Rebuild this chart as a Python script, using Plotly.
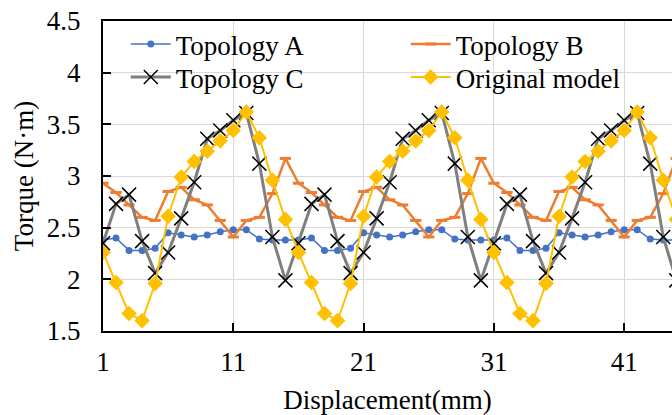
import plotly.graph_objects as go

displacement = list(range(1, 47))

topology_a = [2.38, 2.40, 2.28, 2.28, 2.30, 2.45, 2.43, 2.41, 2.43, 2.46, 2.48, 2.48, 2.39, 2.38, 2.38,
              2.38, 2.40, 2.28, 2.28, 2.30, 2.45, 2.43, 2.41, 2.43, 2.46, 2.48, 2.48, 2.39, 2.38, 2.38,
              2.38, 2.40, 2.28, 2.28, 2.30, 2.45, 2.43, 2.41, 2.43, 2.46, 2.48, 2.48, 2.39, 2.38, 2.38,
              2.38]
topology_b = [2.93, 2.84, 2.72, 2.60, 2.57, 2.85, 2.89, 2.77, 2.72, 2.57, 2.41, 2.57, 2.60, 2.83, 3.17,
              2.93, 2.84, 2.72, 2.60, 2.57, 2.85, 2.89, 2.77, 2.72, 2.57, 2.41, 2.57, 2.60, 2.83, 3.17,
              2.93, 2.84, 2.72, 2.60, 2.57, 2.85, 2.89, 2.77, 2.72, 2.57, 2.41, 2.57, 2.60, 2.83, 3.17,
              2.93]
topology_c = [2.35, 2.73, 2.82, 2.37, 2.06, 2.26, 2.59, 2.94, 3.36, 3.44, 3.54, 3.61, 3.12, 2.41, 1.99,
              2.35, 2.73, 2.82, 2.37, 2.06, 2.26, 2.59, 2.94, 3.36, 3.44, 3.54, 3.61, 3.12, 2.41, 1.99,
              2.35, 2.73, 2.82, 2.37, 2.06, 2.26, 2.59, 2.94, 3.36, 3.44, 3.54, 3.61, 3.12, 2.41, 1.99,
              2.35]
original_model = [2.26, 1.97, 1.67, 1.60, 1.96, 2.61, 2.99, 3.14, 3.24, 3.34, 3.44, 3.62, 3.37, 2.96, 2.58,
                  2.26, 1.97, 1.67, 1.60, 1.96, 2.61, 2.99, 3.14, 3.24, 3.34, 3.44, 3.62, 3.37, 2.96, 2.58,
                  2.26, 1.97, 1.67, 1.60, 1.96, 2.61, 2.99, 3.14, 3.24, 3.34, 3.44, 3.62, 3.37, 2.96, 2.58,
                  2.26]

x_ticks = [1, 11, 21, 31, 41]
y_ticks = [1.5, 2, 2.5, 3, 3.5, 4, 4.5]

FONT = "Liberation Serif, Times New Roman, serif"
FS = 27

fig = go.Figure()
fig.add_trace(go.Scatter(x=displacement, y=topology_a, name="Topology A", mode="lines+markers",
                         legend="legend", showlegend=True,
                         line=dict(color="#4472C4", width=1.5),
                         marker=dict(symbol="circle", size=7, color="#4472C4")))
fig.add_trace(go.Scatter(x=displacement, y=topology_b, name="Topology B", mode="lines+markers",
                         legend="legend2", showlegend=True,
                         line=dict(color="#ED7D31", width=2.5),
                         marker=dict(symbol="line-ew", size=8, color="#ED7D31",
                                     line=dict(color="#ED7D31", width=3))))
fig.add_trace(go.Scatter(x=displacement, y=topology_c, name="Topology C", mode="lines+markers",
                         legend="legend3", showlegend=True,
                         line=dict(color="#7F7F7F", width=3),
                         marker=dict(symbol="x-thin", size=14, color="black",
                                     line=dict(color="black", width=1.5))))
fig.add_trace(go.Scatter(x=displacement, y=original_model, name="Original model", mode="lines+markers",
                         legend="legend4", showlegend=True,
                         line=dict(color="#FFC000", width=2),
                         marker=dict(symbol="diamond", size=12, color="#FFC000")))

def leg(x, y):
    return dict(x=x, y=y, xanchor="left", yanchor="top", bgcolor="rgba(0,0,0,0)",
                font=dict(size=FS, family=FONT, color="black"), itemwidth=40, visible=True)

fig.update_layout(
    width=672, height=415,
    showlegend=True,
    margin=dict(l=103, r=0, t=21, b=84),
    paper_bgcolor="white", plot_bgcolor="white",
    font=dict(family=FONT, size=FS, color="black"),
    legend=leg(0.040, 1.003),
    legend2=leg(0.532, 1.003),
    legend3=leg(0.040, 0.897),
    legend4=leg(0.532, 0.897),
    xaxis=dict(range=[1, 44.67], tickmode="array", tickvals=x_ticks,
               ticktext=[str(v) for v in x_ticks],
               showgrid=True, gridcolor="#D9D9D9", gridwidth=1,
               showline=True, linecolor="black", linewidth=2, mirror=True,
               ticks="inside", ticklen=8, tickwidth=2, tickcolor="black",
               ticklabelstandoff=6,
               zeroline=False,
               title=dict(text="Displacement(mm)", font=dict(size=FS, family=FONT), standoff=16)),
    yaxis=dict(range=[1.5, 4.5], tickmode="array", tickvals=y_ticks,
               ticktext=[f"{v:g}" for v in y_ticks],
               showgrid=True, gridcolor="#D9D9D9", gridwidth=1,
               showline=True, linecolor="black", linewidth=2, mirror=False,
               ticks="inside", ticklen=8, tickwidth=2, tickcolor="black",
               ticklabelstandoff=15,
               zeroline=False,
               title=dict(text="Torque (N·m)", font=dict(size=FS, family=FONT), standoff=5)),
)

fig.write_html("out.html")
